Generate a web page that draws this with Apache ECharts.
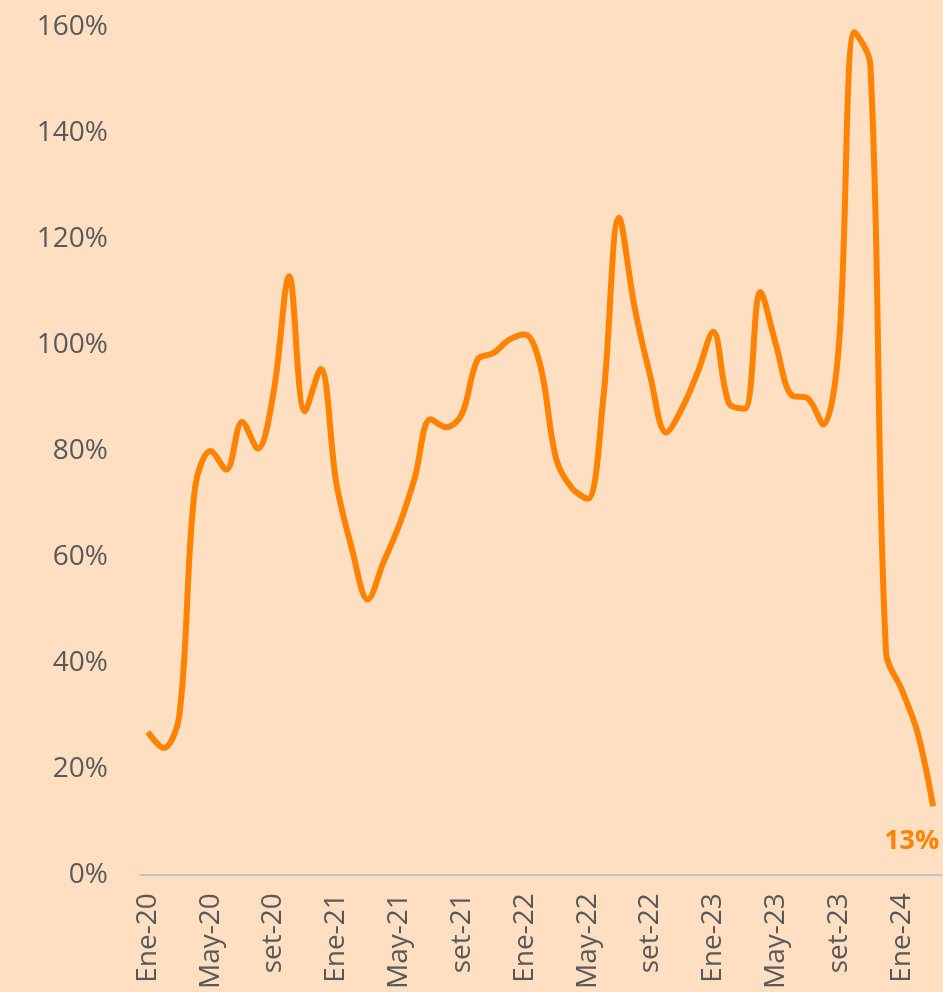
<!DOCTYPE html>
<html lang="es">
<head>
<meta charset="UTF-8" />
<title>Variación</title>
<script src="https://cdn.jsdelivr.net/npm/echarts@6/dist/echarts.min.js"></script>
<style>
  html, body { margin: 0; padding: 0; background: #FFDFC1; }
  #main { width: 943px; height: 992px; }
</style>
</head>
<body>
<div id="main"></div>
<script>
// meses de Ene-20 a Mar-24
var months = [
  'Ene-20','Feb-20','Mar-20','Abr-20','May-20','Jun-20','Jul-20','Ago-20','set-20','Oct-20','Nov-20','Dic-20',
  'Ene-21','Feb-21','Mar-21','Abr-21','May-21','Jun-21','Jul-21','Ago-21','set-21','Oct-21','Nov-21','Dic-21',
  'Ene-22','Feb-22','Mar-22','Abr-22','May-22','Jun-22','Jul-22','Ago-22','set-22','Oct-22','Nov-22','Dic-22',
  'Ene-23','Feb-23','Mar-23','Abr-23','May-23','Jun-23','Jul-23','Ago-23','set-23','Oct-23','Nov-23','Dic-23',
  'Ene-24','Feb-24','Mar-24'
];

// valores en %
var values = [
  27, 24, 30, 73, 80, 76.5, 85.5, 80.5, 91, 113, 87.5, 95.5,
  74, 61.5, 52, 59, 66, 75, 86, 84.5, 87, 97.3, 98.5, 101,
  102, 96, 78.5, 73, 71, 90, 124, 107, 94, 83.5, 88, 94.8,
  102.5, 89, 88, 110, 100, 90.5, 90, 85, 100, 159, 153, 42,
  35, 27, 13
];

var yTicks = { min: 0, max: 160, step: 20 };

var textGrey = '#595959';
var lineOrange = '#FF8200';

var myChart = echarts.init(document.getElementById('main'));

myChart.setOption({
  backgroundColor: '#FFDFC1',
  animation: false,
  grid: { left: 140, right: 2, top: 27, bottom: 115, containLabel: false },
  xAxis: {
    type: 'category',
    data: months,
    boundaryGap: true,
    axisLine: { lineStyle: { color: '#C4C4C4', width: 2 } },
    axisTick: { show: false },
    axisLabel: {
      interval: 3,
      rotate: 90,
      margin: 18,
      color: textGrey,
      fontSize: 28,
      fontFamily: 'Open Sans'
    }
  },
  yAxis: {
    type: 'value',
    min: yTicks.min,
    max: yTicks.max,
    interval: yTicks.step,
    axisLine: { show: false },
    axisTick: { show: false },
    splitLine: { show: false },
    axisLabel: {
      margin: 32,
      color: textGrey,
      fontSize: 28,
      fontFamily: 'Open Sans',
      formatter: '{value}%'
    }
  },
  series: [
    {
      type: 'line',
      data: values,
      smooth: 0.35,
      showSymbol: false,
      lineStyle: { color: lineOrange, width: 6 },
      endLabel: {
        show: true,
        formatter: function (p) { return Math.round(p.value) + '%'; },
        color: lineOrange,
        fontSize: 27,
        fontWeight: 'bold',
        fontFamily: 'Open Sans',
        offset: [-57, 35]
      }
    }
  ]
});
</script>
</body>
</html>
